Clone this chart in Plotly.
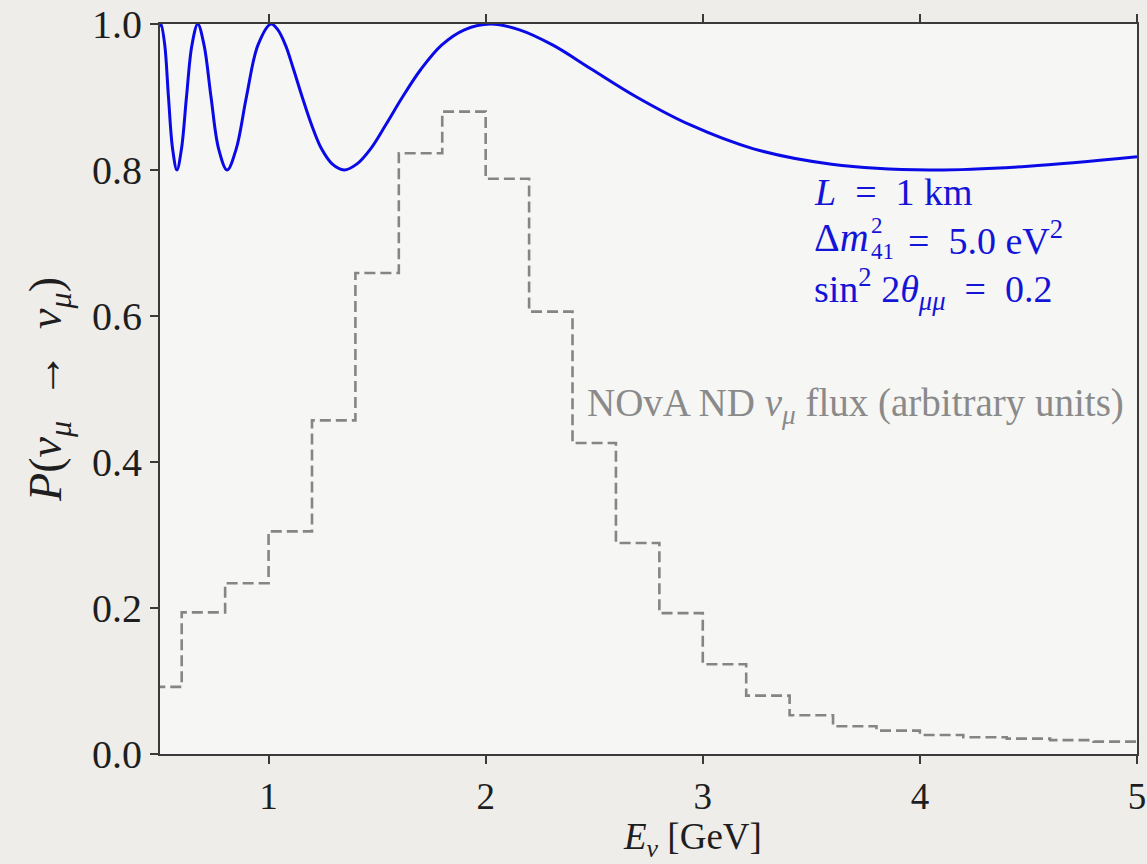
import plotly.graph_objects as go

# Survival probability curve
energy_gev = [0.500, 0.505, 0.522, 0.539, 0.558, 0.578, 0.599, 0.622, 0.647, 0.674,
              0.703, 0.735, 0.770, 0.809, 0.851, 0.898, 0.951, 1.011, 1.043, 1.078,
              1.115, 1.155, 1.198, 1.244, 1.294, 1.348, 1.406, 1.470, 1.540, 1.617,
              1.702, 1.797, 1.902, 2.021, 2.156, 2.310, 2.488, 2.695, 2.940, 3.234,
              3.593, 4.043, 4.500, 5.000]
prob = [0.996, 1.000, 0.971, 0.900, 0.829, 0.800, 0.829, 0.900, 0.971, 1.000,
        0.971, 0.900, 0.829, 0.800, 0.829, 0.900, 0.971, 1.000, 0.992, 0.971,
        0.938, 0.900, 0.862, 0.829, 0.808, 0.800, 0.808, 0.829, 0.862, 0.900,
        0.938, 0.971, 0.992, 1.000, 0.992, 0.971, 0.938, 0.900, 0.862, 0.829,
        0.808, 0.800, 0.805, 0.818]

# NOvA ND flux histogram (arbitrary units), bin edges and heights
flux_edges = [0.4, 0.6, 0.8, 1.0, 1.2, 1.4, 1.6, 1.8, 2.0, 2.2, 2.4, 2.6, 2.8,
              3.0, 3.2, 3.4, 3.6, 3.8, 4.0, 4.2, 4.4, 4.6, 4.8, 5.0]
flux_vals = [0.092, 0.194, 0.234, 0.305, 0.457, 0.659, 0.823, 0.880, 0.788, 0.606,
             0.426, 0.289, 0.193, 0.123, 0.080, 0.053, 0.038, 0.032, 0.026, 0.023,
             0.021, 0.019, 0.017]

x_ticks = [1, 2, 3, 4, 5]
y_ticks = [0.0, 0.2, 0.4, 0.6, 0.8, 1.0]
y_ticklabels = ["0.0", "0.2", "0.4", "0.6", "0.8", "1.0"]

FONT = "Liberation Serif"
AXC = "#3a3a3a"
BLUE_TXT = "#1414d8"
SP = "&nbsp;&nbsp;"

fig = go.Figure()
fig.add_trace(go.Scatter(
    x=flux_edges, y=flux_vals + [flux_vals[-1]], mode="lines",
    line=dict(color="#858585", width=2.6, dash="11px,5px", shape="hv"),
    hoverinfo="skip"))
fig.add_trace(go.Scatter(
    x=energy_gev, y=prob, mode="lines",
    line=dict(color="#0a0ae6", width=3, shape="spline", smoothing=1.0),
    hoverinfo="skip"))


def note(x, y, text, size, color=BLUE_TXT, anchor="left", yanchor="middle"):
    fig.add_annotation(x=x, y=y, xref="paper", yref="paper", xanchor=anchor, yanchor=yanchor,
                       text=text, showarrow=False, borderpad=0,
                       font=dict(family=FONT, size=size, color=color))


note(0.668, 0.770, f"<i>L</i>{SP}={SP}1 km", 38)
note(0.668, 0.707, "Δ<i>m</i>", 40)
note(0.727, 0.724, "2", 23)
note(0.727, 0.688, "41", 23)
note(0.765, 0.707, f"={SP}5.0 eV<sup>2</sup>", 38)
note(0.668, 0.637, f"sin<sup>2</sup> 2<i>θ</i><sub><i>μμ</i></sub>{SP}={SP}0.2", 38)
note(0.436, 0.478, "NOvA ND <i>ν</i><sub><i>μ</i></sub> flux (arbitrary units)", 39, "#8a8a8a")

# x-axis title placed as text below the axis
note(0.545, -0.1507, "<i>E</i><sub><i>ν</i></sub> [GeV]", 37, "#1e1e1e", "center", "bottom")

fig.update_layout(
    width=1147, height=864,
    margin=dict(l=160, r=10, t=24, b=110),
    paper_bgcolor="#eeede9", plot_bgcolor="#f6f6f4",
    showlegend=False,
    font=dict(family=FONT, size=40, color="#1e1e1e"),
)
fig.update_xaxes(
    range=[0.5, 5.0], tickmode="array", tickvals=x_ticks,
    ticks="outside", ticklen=8, tickwidth=2, tickcolor=AXC,
    showline=True, linecolor=AXC, linewidth=2, mirror="ticks",
    showgrid=False, zeroline=False, automargin=False,
    tickfont=dict(family=FONT, size=37), ticklabelstandoff=1,
)
fig.update_yaxes(
    range=[0.0, 1.0], tickmode="array", tickvals=y_ticks, ticktext=y_ticklabels,
    ticks="outside", ticklen=8, tickwidth=2, tickcolor=AXC,
    showline=True, linecolor=AXC, linewidth=2, mirror=True,
    showgrid=False, zeroline=False, automargin=False,
    tickfont=dict(family=FONT, size=40),
    title=dict(text="<i>P</i>(<i>ν</i><sub><i>μ</i></sub>  →  <i>ν</i><sub><i>μ</i></sub>)",
               font=dict(family=FONT, size=46), standoff=16),
)

fig.write_html("out.html")
